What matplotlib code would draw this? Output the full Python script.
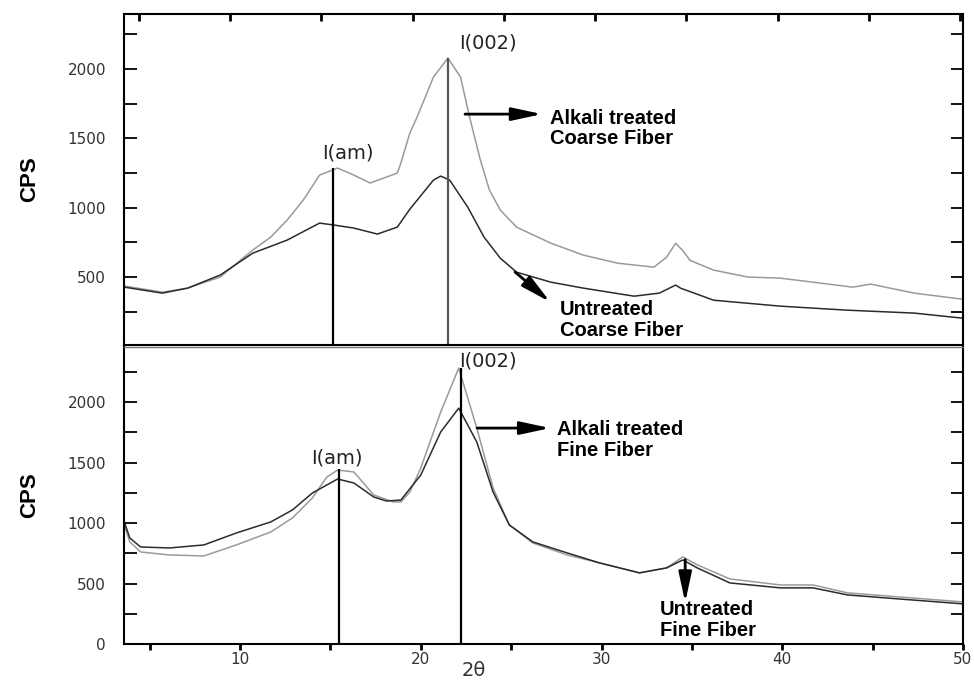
import matplotlib.pyplot as plt
from matplotlib.ticker import MultipleLocator

# top panel: coarse fiber
coarse_treated_x = [3.6, 5.7, 7.1, 8.9, 10.7, 11.7, 12.6, 13.5, 14.4, 15.4, 16.3, 17.2, 18.1, 18.7,
                    18.9, 19.4, 19.8, 20.7, 21.5, 22.2, 22.7, 23.3, 23.8, 24.4, 25.3, 27.2, 29.0,
                    30.9, 32.9, 33.6, 34.1, 34.5, 34.9, 36.2, 38.1, 39.9, 41.7, 43.9, 44.9, 47.3, 50.0]
coarse_treated_y = [435, 391, 420, 500, 694, 788, 910, 1055, 1235, 1286, 1235, 1178, 1221, 1250,
                    1322, 1540, 1654, 1942, 2079, 1942, 1654, 1343, 1127, 983, 860, 744, 658,
                    600, 571, 643, 744, 690, 620, 550, 500, 492, 463, 427, 449, 384, 340]
coarse_untreated_x = [3.6, 5.7, 7.1, 8.9, 10.7, 12.6, 14.4, 15.2, 16.3, 17.6, 18.7, 19.4, 20.7, 21.1,
                      21.6, 22.6, 23.5, 24.4, 25.3, 27.2, 29.0, 31.8, 33.2, 34.1, 34.4, 34.9, 36.2,
                      39.9, 43.6, 47.3, 50.0]
coarse_untreated_y = [427, 384, 420, 514, 672, 766, 889, 875, 853, 810, 860, 990, 1199, 1228,
                      1199, 1004, 788, 636, 535, 463, 420, 362, 384, 442, 418, 395, 333,
                      290, 261, 240, 203]

# bottom panel: fine fiber
fine_treated_x = [3.6, 3.9, 4.5, 6.1, 8.0, 9.8, 11.7, 12.9, 14.0, 14.8, 15.4, 16.3, 17.4, 18.5, 18.9,
                  19.4, 20.0, 21.1, 22.1, 23.1, 24.0, 24.9, 26.2, 28.1, 29.9, 32.1, 33.6, 34.5, 35.3,
                  37.1, 39.9, 41.7, 43.6, 46.4, 50.0]
fine_treated_y = [984, 844, 761, 736, 728, 819, 926, 1042, 1207, 1380, 1438, 1422, 1232, 1174, 1174,
                  1257, 1455, 1917, 2281, 1785, 1290, 984, 835, 736, 670, 588, 629, 720, 654,
                  538, 488, 488, 423, 390, 348]
fine_untreated_x = [3.6, 3.9, 4.5, 6.1, 8.0, 9.8, 11.7, 12.9, 14.0, 15.4, 16.3, 17.4, 18.1, 18.9,
                    20.0, 21.1, 22.1, 23.1, 24.0, 24.9, 26.2, 28.1, 29.9, 32.1, 33.6, 34.5, 35.3,
                    37.1, 39.9, 41.7, 43.6, 46.4, 50.0]
fine_untreated_y = [1009, 877, 802, 794, 819, 918, 1009, 1108, 1248, 1364, 1331, 1215, 1182, 1190,
                    1397, 1752, 1950, 1670, 1257, 984, 844, 753, 670, 588, 629, 695, 629,
                    505, 464, 464, 406, 373, 332]

# peak markers (2theta, CPS)
coarse_am = (15.15, 1286)
coarse_002 = (21.51, 2080)
fine_am = (15.48, 1446)
fine_002 = (22.23, 2281)

dark = "#2b2b2b"
light = "#9a9a9a"

fig = plt.figure(figsize=(9.74, 6.83), dpi=100)
ax1 = fig.add_axes([0.1273, 0.4949, 0.8614, 0.4846])
ax2 = fig.add_axes([0.1273, 0.0571, 0.8614, 0.4348])

for ax in (ax1, ax2):
    ax.set_xlim(3.58, 50)
    ax.yaxis.set_major_locator(MultipleLocator(500))
    ax.yaxis.set_minor_locator(MultipleLocator(250))
    ax.tick_params(axis="y", which="both", direction="in", left=True, right=True,
                   length=9, width=1.3, labelsize=11, pad=13, labelcolor="#333333")
    ax.set_ylabel("CPS", fontsize=16, fontweight="bold", family="Liberation Sans", labelpad=20)
    for s in ax.spines.values():
        s.set_linewidth(1.5)

ax1.set_ylim(10, 2397)
ax1.plot(coarse_treated_x, coarse_treated_y, color=light, lw=1.1)
ax1.plot(coarse_untreated_x, coarse_untreated_y, color=dark, lw=1.1)
ax1.set_yticks([500, 1000, 1500, 2000])
ax1.set_xticks([4.4 + 5.05 * k for k in range(10)])
ax1.tick_params(axis="x", top=True, bottom=False, labelbottom=False, direction="in",
                length=5, width=2)

ax2.set_ylim(0, 2455)
ax2.plot(fine_treated_x, fine_treated_y, color=light, lw=1.1)
ax2.plot(fine_untreated_x, fine_untreated_y, color=dark, lw=1.1)
ax2.set_yticks([0, 500, 1000, 1500, 2000])
ax2.xaxis.set_major_locator(MultipleLocator(10))
ax2.xaxis.set_minor_locator(MultipleLocator(5))
ax2.tick_params(axis="x", which="both", direction="out", length=4, width=2,
                labelsize=11, pad=2, labelcolor="#333333")
ax2.spines["top"].set_linewidth(1.0)
ax2.spines["top"].set_color("#777777")
fig.text(0.486, 0.004, "2θ", fontsize=14, ha="center", va="bottom", color="#333333")

lab = dict(fontsize=14, ha="center", va="center", color="#222222")
txt = dict(fontsize=14.5, fontweight="bold", family="Liberation Sans", ha="left", va="center",
           linespacing=1.1)
arr = dict(arrowstyle="-|>,head_length=1.3,head_width=0.28", lw=2, color="k", mutation_scale=14,
           shrinkA=0, shrinkB=0)

# top panel annotations
ax1.vlines(coarse_am[0], 10, coarse_am[1], color="k", lw=1.6)
ax1.vlines(coarse_002[0], 10, coarse_002[1], color="#555555", lw=1.6)
ax1.text(15.98, 1394, "I(am)", **lab)
ax1.text(23.72, 2188, "I(002)", **lab)
ax1.annotate("", xy=(26.71, 1675), xytext=(22.45, 1675), arrowprops=arr)
ax1.text(27.15, 1571, "Alkali treated\nCoarse Fiber", **txt)
ax1.annotate("", xy=(27.16, 320), xytext=(25.22, 536), arrowprops=arr)
ax1.text(27.71, 189, "Untreated\nCoarse Fiber", **txt)

# bottom panel annotations
ax2.vlines(fine_am[0], 0, fine_am[1], color="k", lw=1.6)
ax2.vlines(fine_002[0], 0, fine_002[1], color="k", lw=1.6)
ax2.text(15.37, 1537, "I(am)", **lab)
ax2.text(23.72, 2339, "I(002)", **lab)
ax2.annotate("", xy=(27.16, 1785), xytext=(23.12, 1785), arrowprops=arr)
ax2.text(27.54, 1686, "Alkali treated\nFine Fiber", **txt)
ax2.annotate("", xy=(34.63, 343), xytext=(34.63, 698), arrowprops=arr)
ax2.text(33.24, 199, "Untreated\nFine Fiber", **txt)

fig.savefig("out.png", dpi=100)
